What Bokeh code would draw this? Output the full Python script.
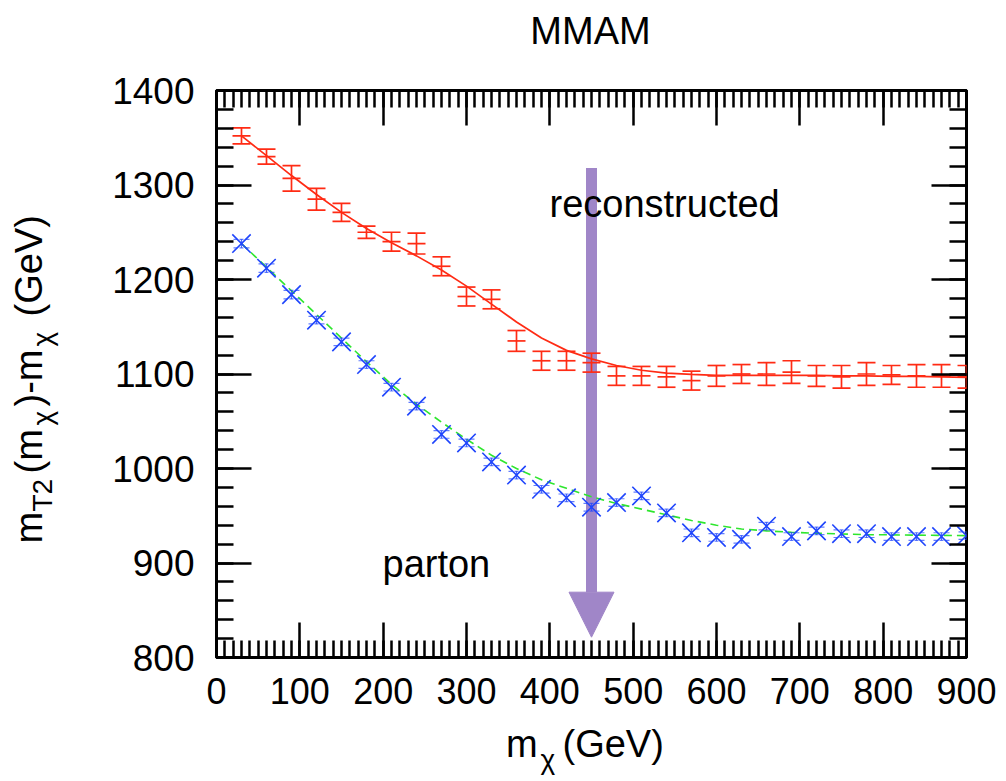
import numpy as np
from bokeh.plotting import figure
from bokeh.models import (ColumnDataSource, Whisker, TeeHead, Arrow, NormalHead, Label,
                          LinearAxis, SingleIntervalTicker, Range1d, CustomJSTickFormatter)
from bokeh.embed import file_html
from bokeh.resources import INLINE

# ---------------- data ----------------
m_chi = [30, 60, 90, 120, 150, 180, 210, 240, 270, 300, 330, 360, 390, 420, 450,
         480, 510, 540, 570, 600, 630, 660, 690, 720, 750, 780, 810, 840, 870, 900]

recon = [1352, 1330, 1307, 1285, 1271, 1250, 1240, 1238, 1214, 1182, 1179, 1135, 1114, 1114, 1112,
         1098, 1098, 1097, 1093, 1098, 1100, 1100, 1102, 1098, 1097, 1100, 1099, 1098, 1098, 1097]
recon_err = [8.5, 8, 13.5, 11.5, 9.5, 6.5, 10, 11, 10, 10, 10, 11, 10, 10, 10,
             10, 10, 11, 10, 11, 10, 12, 12, 11, 12, 12, 10, 12, 12, 12]
recon_fit = [1352, 1331, 1310, 1290, 1271, 1254, 1239, 1225, 1210, 1193, 1174, 1155, 1138, 1125, 1116,
             1109, 1104, 1101, 1099.5, 1098.5, 1098.5, 1098.5, 1098.5, 1098.5, 1098, 1098, 1097.5,
             1097.5, 1097, 1096.5]

parton = [1238, 1212, 1184, 1157, 1134, 1110, 1086, 1066, 1036, 1027, 1007, 993, 978, 969, 959,
          964, 971, 953, 932, 927, 925, 939, 928, 934, 931, 931, 928, 928, 928, 929]
parton_err = [4.5, 4.5, 4.5, 4, 4, 4, 4, 4, 4, 4, 4, 4, 4, 4, 4,
              4, 4, 4, 4, 4, 4, 4, 4, 4, 4, 4, 4, 4, 4, 4]
parton_fit = [1238, 1213, 1188, 1163, 1138, 1113, 1089, 1068, 1049, 1031, 1014, 1000, 988, 979, 970,
              963, 957, 951, 945, 940, 936, 934, 932.5, 931.5, 930.7, 930, 929.8, 929.5, 929.2, 929]

x_limits = [0, 900]
y_limits = [800, 1400]
kink_mass = 450
arrow_top, arrow_tip = 1318, 821.5

# ---------------- styling ----------------
RED = "#ff2b14"
BLUE = "#1f45fc"
GREEN = "#2ee62e"
PURPLE = "#a086c8"
FONT = "Liberation Sans"

FX0, FY0 = 216, 90          # frame top-left on the canvas
FW, FH = 750, 567
BR, BB = 36, 124
W, H = FX0 + FW + BR, FY0 + FH + BB

p = figure(frame_width=FW, frame_height=FH,
           x_range=Range1d(*x_limits), y_range=Range1d(*y_limits),
           output_backend="svg", toolbar_location=None,
           min_border_left=FX0, min_border_right=BR, min_border_top=FY0, min_border_bottom=BB)
p.xgrid.visible = False
p.ygrid.visible = False
p.outline_line_color = "black"
p.outline_line_width = 3
p.background_fill_color = "white"
p.border_fill_color = "white"

bottom = p.below[0]
left = p.left[0]
bottom.ticker = SingleIntervalTicker(interval=100, num_minor_ticks=10)
left.ticker = SingleIntervalTicker(interval=100, num_minor_ticks=5)
top = LinearAxis(ticker=SingleIntervalTicker(interval=100, num_minor_ticks=10),
                 formatter=CustomJSTickFormatter(code="return ''"))
right = LinearAxis(ticker=SingleIntervalTicker(interval=100, num_minor_ticks=5),
                   formatter=CustomJSTickFormatter(code="return ''"))
p.add_layout(top, "above")
p.add_layout(right, "right")

for ax in [bottom, left, top, right]:
    ax.axis_line_color = None
    ax.major_tick_in = 35
    ax.major_tick_out = 0
    ax.minor_tick_in = 17
    ax.minor_tick_out = 0
    ax.major_tick_line_color = "black"
    ax.minor_tick_line_color = "black"
    ax.major_tick_line_width = 2.5
    ax.minor_tick_line_width = 2.5
    ax.major_label_text_font = FONT
    ax.major_label_text_color = "black"

left.major_label_text_font_size = "37px"
left.major_label_standoff = 22
bottom.major_label_text_font_size = "36px"
bottom.major_label_standoff = 20

# ---------------- arrow (under the data) ----------------
arrow = Arrow(end=NormalHead(size=45, fill_color=PURPLE, line_color=PURPLE, line_width=1),
              x_start=kink_mass, y_start=arrow_top, x_end=kink_mass, y_end=arrow_tip,
              line_color=PURPLE, line_width=11, level="underlay")
p.add_layout(arrow)

# ---------------- reconstructed (red) ----------------
src_r = ColumnDataSource(dict(x=m_chi, y=recon,
                              lo=[v - e for v, e in zip(recon, recon_err)],
                              hi=[v + e for v, e in zip(recon, recon_err)]))
wr = Whisker(base="x", lower="lo", upper="hi", source=src_r,
             line_color=RED, line_width=1.7,
             upper_head=TeeHead(size=18, line_color=RED, line_width=1.7),
             lower_head=TeeHead(size=18, line_color=RED, line_width=1.7),
             level="glyph")
p.add_layout(wr)
p.scatter("x", "y", source=src_r, marker="dash", size=18, line_color=RED, line_width=1.7)
p.line(m_chi, recon_fit, line_color=RED, line_width=1.7)

# ---------------- parton (blue) ----------------
src_b = ColumnDataSource(dict(x=m_chi, y=parton,
                              lo=[v - e for v, e in zip(parton, parton_err)],
                              hi=[v + e for v, e in zip(parton, parton_err)]))
p.line(m_chi, parton_fit, line_color=GREEN, line_width=1.6, line_dash="8 5")
wb = Whisker(base="x", lower="lo", upper="hi", source=src_b,
             line_color=BLUE, line_width=1.2, line_alpha=0.8,
             upper_head=TeeHead(size=16, line_color=BLUE, line_width=1.2, line_alpha=0.7, line_dash="4 2"),
             lower_head=TeeHead(size=16, line_color=BLUE, line_width=1.2, line_alpha=0.7, line_dash="4 2"),
             level="glyph")
p.add_layout(wb)
p.scatter("x", "y", source=src_b, marker="x", size=26, line_color=BLUE, line_width=1.6)

# empirical correction: rendered baseline sits ~0.345 em below the anchor
SHIFT = 0.345

# ---------------- in-frame texts ----------------
def frame_label(fig, px, py, text, size=38, align="left"):
    py = py - SHIFT * size
    fig.add_layout(Label(x=px - FX0, y=(FY0 + FH) - py, x_units="screen", y_units="screen",
                         text=text, text_font=FONT, text_font_size=f"{size}px",
                         text_color="black", text_align=align, text_baseline="alphabetic"))

frame_label(p, 549, 217, "reconstructed")
frame_label(p, 382, 577, "parton")

# ---------------- transparent overlay canvas (separate root) for texts outside the frame ----------------
txt = figure(width=W, height=H, x_range=Range1d(0, W), y_range=Range1d(H, 0),
             output_backend="svg", toolbar_location=None, min_border=0,
             x_axis_location=None, y_axis_location=None,
             styles={"position": "absolute", "left": "0px", "top": "0px"})
txt.grid.visible = False
txt.outline_line_color = None
txt.background_fill_color = None
txt.border_fill_color = None

def lab(px, py, text, size=38, align="left", angle=0.0):
    if angle:
        px = px - SHIFT * size
    else:
        py = py - SHIFT * size
    txt.add_layout(Label(x=px, y=py, text=text, text_font=FONT,
                         text_font_size=f"{size}px", text_color="black",
                         text_align=align, text_baseline="alphabetic", angle=angle))

lab(590, 43.5, "MMAM", align="center")

# x axis title: m_chi (GeV)
lab(505.5, 757, "m")
lab(540, 769, "\u03c7", size=28)
lab(562, 757, "(GeV)")

# y axis title: m_T2(m_chi)-m_chi (GeV), rotated (pieces placed bottom to top)
R = np.pi / 2
base_main, base_sub = 41.7, 51.7
lab(base_main, 543, "m", angle=R)
lab(base_sub, 511, "T2", size=28, angle=R)
lab(base_main, 473, "(m", angle=R)
lab(base_sub, 425, "\u03c7", size=28, angle=R)
lab(base_main, 406, ")-m", angle=R)
lab(base_sub, 346, "\u03c7", size=28, angle=R)
lab(base_main, 316, "(GeV)", angle=R)

open("out.html", "w").write(file_html([p, txt], INLINE))
